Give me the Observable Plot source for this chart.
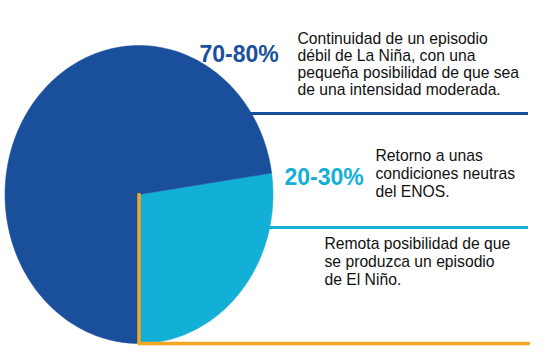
<!DOCTYPE html>
<html><head><meta charset="utf-8">
<script src="https://cdn.jsdelivr.net/npm/d3@7"></script>
<script src="https://cdn.jsdelivr.net/npm/@observablehq/plot@0.6"></script>
<style>html,body{margin:0;padding:0;background:#fff;} svg{display:block}</style>
</head><body><div id="chart"></div>
<script>
// ---- data ----
const keys = ["neutral", "nino", "nina"];
const shares = [27.3, 0, 72.7];
const pctLabels = ["20-30%", "", "70-80%"];
const descriptions = [
  "Retorno a unas\ncondiciones neutras\ndel ENOS.",
  "Remota posibilidad de que\nse produzca un episodio\nde El Niño.",
  "Continuidad de un episodio\ndébil de La Niña, con una\npequeña posibilidad de que sea\nde una intensidad moderada."
];
const colors = ["#12afd6", "#f5a623", "#1a4f9c"];

// ---- layout (pixels) ----
const cx = 138.5, cy = 194, rx = 134, ry = 149, lineEnd = 528;
const ux = px => (px - cx) / rx;
const uy = py => (cy - py) / ry;

// pie: El Niño sits at 6 o'clock, neutral slice runs clockwise into it
const total = d3.sum(shares);
const startAngle = Math.PI - (shares[0] / total) * 2 * Math.PI;
const arcs = d3.pie().sort(null).startAngle(startAngle).endAngle(startAngle + 2 * Math.PI)(shares);

function slicePoints(a) {
  const pts = [{x: 0, y: 0}];
  const n = Math.max(2, Math.ceil((a.endAngle - a.startAngle) / (Math.PI / 180)));
  for (let i = 0; i <= n; i++) {
    const t = a.startAngle + (a.endAngle - a.startAngle) * i / n;
    pts.push({x: Math.sin(t), y: Math.cos(t)});
  }
  pts.push({x: 0, y: 0});
  return pts;
}

const fontFamily = "'Liberation Sans', Arial, Helvetica, sans-serif";
const fs = 15.7;

const marks = [];
// leader rules behind pie
marks.push(Plot.ruleY([uy(113)], {x1: 0, x2: ux(lineEnd), stroke: colors[2], strokeWidth: 3}));
marks.push(Plot.ruleY([uy(227)], {x1: 0, x2: ux(lineEnd), stroke: colors[0], strokeWidth: 3}));
// slices
arcs.forEach((a, i) => {
  if (a.endAngle - a.startAngle <= 0) return;
  marks.push(Plot.line(slicePoints(a), {x: "x", y: "y", fill: colors[i], stroke: colors[i], strokeWidth: 0.5, curve: "linear"}));
});
// El Niño line: from centre down the slice boundary, then out to the right
const ninoAngle = arcs[1].startAngle;
const ninoPath = [
  {x: 0, y: 0},
  {x: Math.sin(ninoAngle), y: Math.cos(ninoAngle)},
  {x: ux(lineEnd), y: Math.cos(ninoAngle)}
];
marks.push(Plot.line(ninoPath, {x: "x", y: "y", stroke: colors[1], strokeWidth: 3.5}));

// percentage labels
marks.push(Plot.text([pctLabels[2]], {x: ux(199), y: uy(45.5), text: d => d, textAnchor: "start", lineAnchor: "top", fontSize: 23, fontWeight: "bold", fill: colors[2]}));
marks.push(Plot.text([pctLabels[0]], {x: ux(284), y: uy(168.5), text: d => d, textAnchor: "start", lineAnchor: "top", fontSize: 23, fontWeight: "bold", fill: colors[0]}));

// descriptions
marks.push(Plot.text([descriptions[2]], {x: ux(297), y: uy(42.7 - 0.71 * fs), text: d => d, textAnchor: "start", lineAnchor: "top", fontSize: fs, lineHeight: 17.1 / fs, fill: "#111"}));
marks.push(Plot.text([descriptions[0]], {x: ux(375), y: uy(159.3 - 0.71 * fs), text: d => d, textAnchor: "start", lineAnchor: "top", fontSize: fs, lineHeight: 17.8 / fs, fill: "#111"}));
marks.push(Plot.text([descriptions[1]], {x: ux(324), y: uy(247 - 0.71 * fs), text: d => d, textAnchor: "start", lineAnchor: "top", fontSize: fs, lineHeight: 18 / fs, fill: "#111"}));

const chart = Plot.plot({
  width: 550,
  height: 357,
  margin: 0,
  style: {fontFamily, background: "#fff"},
  x: {domain: [-1, 1], range: [cx - rx, cx + rx], axis: null},
  y: {domain: [-1, 1], range: [cy + ry, cy - ry], axis: null},
  marks
});
document.getElementById("chart").appendChild(chart);
</script>
</body></html>
